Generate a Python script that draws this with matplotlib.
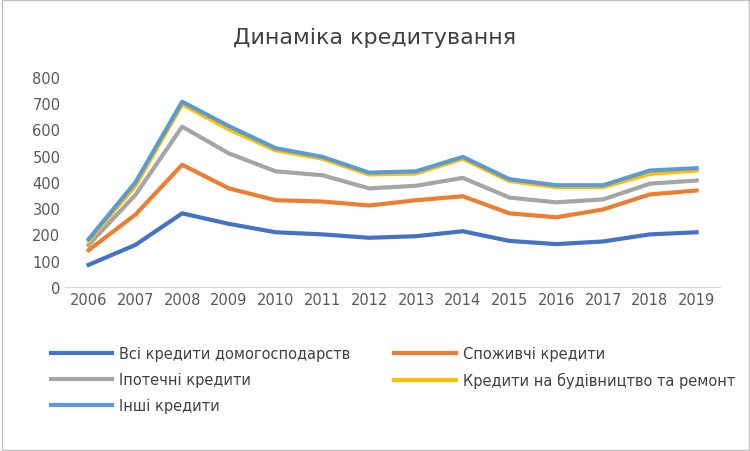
import matplotlib.pyplot as plt

years = [str(y) for y in range(2006, 2020)]
all_credits = [84, 160, 280, 240, 208, 200, 187, 193, 212, 175, 163, 173, 200, 208]
consumer = [140, 275, 465, 375, 330, 325, 310, 330, 345, 280, 265, 295, 352, 367]
mortgage = [160, 350, 610, 508, 440, 425, 375, 385, 415, 340, 322, 333, 393, 405]
construction = [175, 385, 695, 600, 520, 488, 428, 432, 488, 403, 380, 380, 430, 443]
other = [182, 398, 705, 612, 528, 495, 435, 440, 495, 410, 387, 387, 443, 452]

names = ['Всі кредити домогосподарств', 'Споживчі кредити', 'Іпотечні кредити',
         'Кредити на будівництво та ремонт', 'Інші кредити']
colors = ['#4472C4', '#ED7D31', '#A5A5A5', '#FFC000', '#5B9BD5']
series = [all_credits, consumer, mortgage, construction, other]

fig = plt.figure(figsize=(7.5, 4.52), dpi=100)
ax = fig.add_axes([0.087, 0.363, 0.873, 0.465])
x = range(len(years))
for s, c, n in zip(series, colors, names):
    ax.plot(x, s, color=c, lw=3, label=n)

ax.set_ylim(0, 800)
ax.set_xlim(-0.5, len(years) - 0.5)
ax.set_yticks(range(0, 801, 100))
ax.set_xticks(list(x))
ax.set_xticklabels(years)
ax.tick_params(colors='#595959', labelsize=10.5, length=0)
for sp in ax.spines.values():
    sp.set_visible(False)
ax.spines['bottom'].set_visible(True)
ax.spines['bottom'].set_color('#D9D9D9')

fig.text(0.5, 0.915, 'Динаміка кредитування', ha='center', va='center',
         fontsize=16, color='#404040')
handles, labels = ax.get_legend_handles_labels()
# matplotlib fills legend columns first; reorder so rows read like the reference
order = [0, 2, 4, 1, 3]
fig.legend([handles[i] for i in order], [labels[i] for i in order],
           loc='upper left', bbox_to_anchor=(0.06, 0.245), ncol=2, frameon=False,
           fontsize=10.5, labelcolor='#404040', handlelength=4.2,
           columnspacing=3.0, borderaxespad=0, labelspacing=0.75, handletextpad=0.5)
fig.patches.append(plt.Rectangle((0.002, 0.003), 0.996, 0.994, transform=fig.transFigure,
                                 fill=False, ec='#BFBFBF', lw=1))
fig.savefig('out.png', dpi=100)
